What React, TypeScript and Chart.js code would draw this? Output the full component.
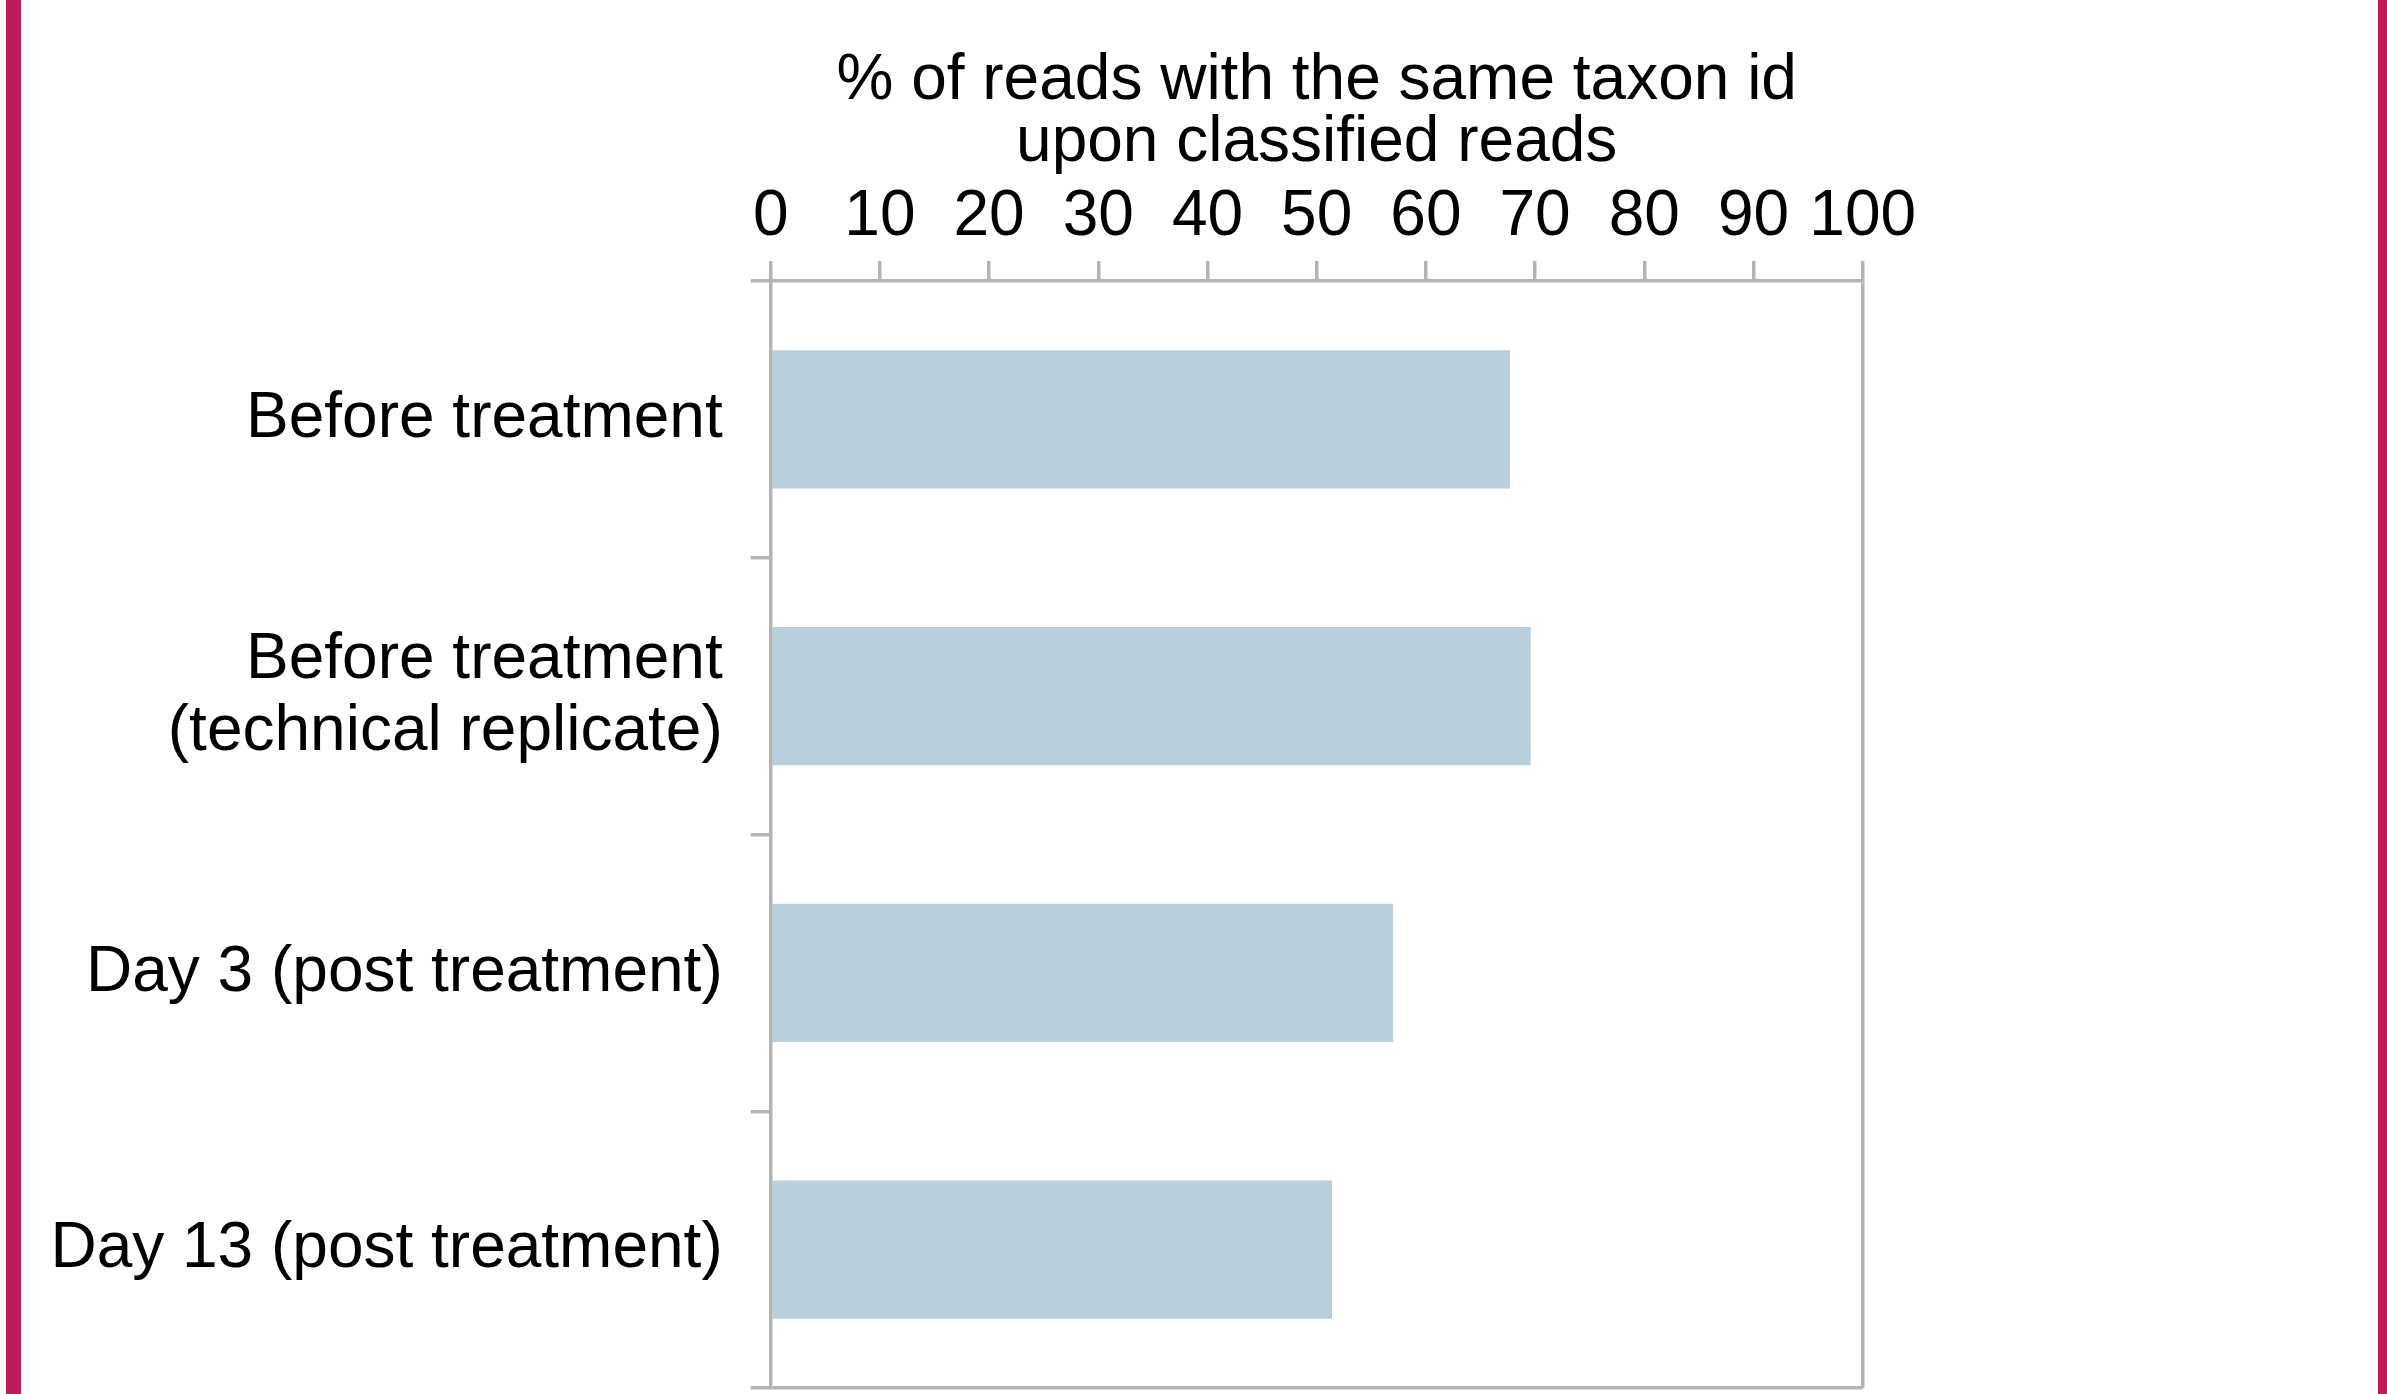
import React, { useEffect, useRef } from 'react';
import { Chart, registerables } from 'chart.js';

Chart.register(...registerables);

const categories: (string | string[])[] = [
  'Before treatment',
  ['Before treatment', '(technical replicate)'],
  'Day 3 (post treatment)',
  'Day 13 (post treatment)',
];
const values = [67.7, 69.6, 57.0, 51.4];
const xTickValues = [0, 10, 20, 30, 40, 50, 60, 70, 80, 90, 100];
const titleLines = ['% of reads with the same taxon id', 'upon classified reads'];

const GRAY = 'rgb(180,180,180)';
const BAR = 'rgb(185,207,220)';
const MAGENTA = 'rgb(190,26,92)';
const FONT = 'Liberation Sans, Arial, sans-serif';

const framePlugin = {
  id: 'frame',
  afterDraw(chart: any) {
    const ctx = chart.ctx;
    ctx.save();
    ctx.fillStyle = MAGENTA;
    ctx.fillRect(6, 0, 15, chart.height);
    ctx.fillRect(chart.width - 9, 0, 9, chart.height);
    ctx.restore();
  },
};

const zeroPad = (scale: any) => {
  scale.paddingTop = 0;
  scale.paddingBottom = 0;
  scale.paddingLeft = 0;
  scale.paddingRight = 0;
};

export default function App() {
  const ref = useRef<HTMLCanvasElement | null>(null);
  useEffect(() => {
    document.body.style.margin = '0';
    const canvas = ref.current!;
    const chart = new Chart(canvas, {
      type: 'bar',
      data: {
        labels: categories,
        datasets: [
          {
            data: values,
            backgroundColor: BAR,
            borderWidth: 0,
            barPercentage: 0.5,
            categoryPercentage: 1.0,
          },
        ],
      },
      options: {
        indexAxis: 'y',
        responsive: false,
        animation: false,
        devicePixelRatio: 1,
        layout: { padding: { left: 0, top: 0, right: 524.3, bottom: 6 } },
        plugins: { legend: { display: false }, tooltip: { enabled: false } },
        scales: {
          x: {
            position: 'top',
            min: 0,
            max: 100,
            afterBuildTicks: (scale: any) => {
              scale.ticks = xTickValues.map((v) => ({ value: v }));
            },
            afterFit: (scale: any) => {
              scale.height = 281;
              zeroPad(scale);
            },
            grid: {
              drawOnChartArea: true,
              color: (ctx: any) =>
                ctx.tick && ctx.tick.value === 100 ? GRAY : 'rgba(0,0,0,0)',
              tickColor: GRAY,
              lineWidth: 3.5,
              tickWidth: 3.5,
              tickLength: 20,
            },
            border: { display: true, color: GRAY, width: 3.5, z: 1 },
            ticks: {
              color: '#000',
              padding: 5,
              font: { family: FONT, size: 64, lineHeight: 1.2 },
              maxRotation: 0,
              autoSkip: false,
            },
            title: {
              display: true,
              text: titleLines,
              color: '#000',
              font: { family: FONT, size: 64, lineHeight: 0.97 },
              padding: { top: 50, bottom: 0 },
            },
          },
          y: {
            position: 'left',
            afterFit: (scale: any) => {
              scale.width = 770.7;
              zeroPad(scale);
            },
            grid: {
              offset: true,
              drawOnChartArea: true,
              color: (ctx: any) => (ctx.type === 'scale' ? GRAY : 'rgba(0,0,0,0)'),
              tickColor: GRAY,
              lineWidth: 3.5,
              tickWidth: 3.5,
              tickLength: 20,
            },
            border: { display: true, color: GRAY, width: 3.5, z: 1 },
            ticks: {
              color: '#000',
              padding: 28,
              font: { family: FONT, size: 64, lineHeight: 1.12 },
              autoSkip: false,
            },
          },
        },
      },
      plugins: [framePlugin],
    } as any);
    return () => chart.destroy();
  }, []);
  return (
    <canvas
      ref={ref}
      width={2387}
      height={1394}
      style={{ position: 'fixed', left: 0, top: 0, width: '2387px', height: '1394px' }}
    />
  );
}
